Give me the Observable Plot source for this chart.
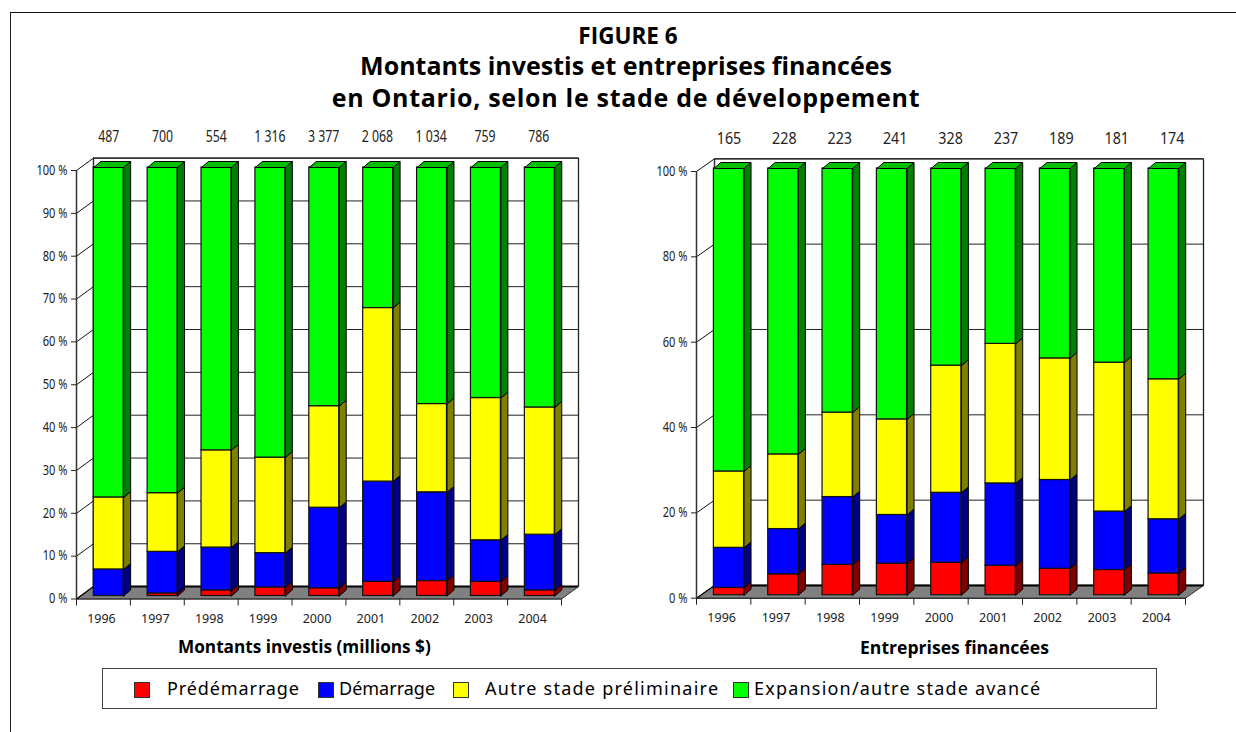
<!DOCTYPE html>
<html lang="fr">
<head>
<meta charset="utf-8">
<script src="https://cdn.jsdelivr.net/npm/d3@7"></script>
<script src="https://cdn.jsdelivr.net/npm/@observablehq/plot@0.6"></script>
<style>
html,body{margin:0;padding:0;background:#fff;width:1236px;height:732px;overflow:hidden}
#page{position:relative;width:1236px;height:732px;font-family:"Open Sans",sans-serif;color:#000}
.frameT{position:absolute;left:10px;top:12px;width:1226px;height:0;border-top:1.4px solid #111}
.frameL{position:absolute;left:10px;top:12px;width:0;height:720px;border-left:1.4px solid #222}
.ttl{position:absolute;left:0;width:1252px;text-align:center;font-weight:700;line-height:32px;color:#000;white-space:nowrap}
.plot{position:absolute;top:0}
.sub{position:absolute;top:637px;font-weight:700;line-height:20px;white-space:nowrap}
#legend{position:absolute;left:102px;top:668px;width:1053px;height:39px;border:1.3px solid #444;box-sizing:content-box}
.sw{position:absolute;top:13px;width:14px;height:14px;border:1px solid #333}
.lt{position:absolute;top:6px;font-size:18px;line-height:26px;white-space:nowrap;font-family:"Noto Sans",sans-serif}
</style>
</head>
<body>
<div id="page">
  <div class="frameT"></div><div class="frameL"></div>
  <div class="ttl" style="top:20px;font-size:22.5px;left:2px">FIGURE 6</div>
  <div class="ttl" style="top:49px;font-size:25px">Montants investis et entreprises financées</div>
  <div class="ttl" style="top:81px;font-size:25px;letter-spacing:0.7px">en Ontario, selon le stade de développement</div>
</div>
<script>
const years = [1996,1997,1998,1999,2000,2001,2002,2003,2004];
const stages = ["Prédémarrage","Démarrage","Autre stade préliminaire","Expansion/autre stade avancé"];
const frontColors = ["#ff0000","#0000ff","#ffff00","#00ff00"];
const sideColors  = ["#800000","#000080","#808000","#008000"];
const topColor = "#00c000";

// Montants investis (%)
const amountPre   = [0,0.6,1.3,2,1.8,3.3,3.5,3.3,1.3];
const amountDem   = [6.2,9.7,10,8,18.8,23.4,20.7,9.7,13];
const amountAutre = [16.8,13.7,22.7,22.3,23.7,40.5,20.6,33.2,29.7];
const amountExp   = [77,76,66,67.7,55.7,32.8,55.2,53.8,56];
const amountTotals = ["487","700","554","1 316","3 377","2 068","1 034","759","786"];
const amountTicks = [0,10,20,30,40,50,60,70,80,90,100];

// Entreprises financées (%)
const firmPre   = [1.7,4.9,7.1,7.4,7.6,6.9,6.2,5.9,5.1];
const firmDem   = [9.4,10.6,15.9,11.4,16.4,19.3,20.8,13.7,12.7];
const firmAutre = [17.9,17.5,19.8,22.4,29.8,32.7,28.5,34.9,32.8];
const firmExp   = [71,67,57.2,58.8,46.2,41.1,44.5,45.5,49.4];
const firmTotals = ["165","228","223","241","328","237","189","181","174"];
const firmTicks = [0,20,40,60,80,100];

const SVGW = 618, SVGH = 620;
const sans = '"Noto Sans",sans-serif';

function chart({series, totals, ticks, left, x0, x9, y0, y100, wallX, wallY, totalStep, totalFont, totalSquash}) {
  const pxX = (x9 - x0) / 9, pxY = (y0 - y100) / 100;
  const W = {x: wallX / pxX, y: wallY / pxY};           // depth of the chart box, data units
  const B = {x: 7 / pxX, y: 6 / pxY};                   // depth of a bar, data units
  const lift = 3;                                       // bars stand a little behind the front edge
  const barL = 0.32, barR = 0.875;
  const rows = [];
  years.forEach((yr, i) => {
    let acc = 0;
    series.forEach((vals, s) => {
      const v = vals[i];
      if (v > 0) rows.push({i, s, x1: i + barL, x2: i + barR, y1: acc, y2: acc + v});
      acc += v;
    });
  });
  const poly = (pts, id) => pts.concat([pts[0]]).map(([x, y]) => ({x, y, id}));
  const sides = s => rows.filter(r => r.s === s).flatMap((r, k) => poly([
    [r.x2, r.y1], [r.x2, r.y2], [r.x2 + B.x, r.y2 + B.y], [r.x2 + B.x, r.y1 + B.y]
  ], k));
  const tops = rows.filter(r => r.s === 3).flatMap((r, k) => poly([
    [r.x1, r.y2], [r.x1 + B.x, r.y2 + B.y], [r.x2 + B.x, r.y2 + B.y], [r.x2, r.y2]
  ], k));
  const wallBack = poly([[W.x,W.y],[W.x,100+W.y],[9+W.x,100+W.y],[9+W.x,W.y]],0);
  const floor = poly([[0,0],[W.x,W.y],[9+W.x,W.y],[9,0]],0);
  const gridRows = ticks;
  const lineOpts = {x:"x", y:"y", z:"id"};

  const marks = [
    Plot.line(wallBack, {...lineOpts, fill:"#fff", stroke:"#222", strokeWidth:1.3}),
    Plot.ruleY(gridRows, {x1:W.x, x2:9+W.x, y:d=>d+W.y, stroke:"#222", strokeWidth:1}),
    Plot.link(gridRows, {x1:0, y1:d=>d, x2:W.x, y2:d=>d+W.y, stroke:"#111", strokeWidth:1}),
    Plot.line(poly([[W.x,W.y],[W.x,100+W.y]],0), {...lineOpts, stroke:"#333", strokeWidth:1.2}),
    Plot.line(floor, {...lineOpts, fill:"#808080", stroke:"none"}),
    Plot.ruleY([0], {x1:W.x, x2:9+W.x, y:d=>d+W.y, stroke:"#000", strokeWidth:2}),
    Plot.ruleY([0], {x1:0, x2:9, stroke:"#333", strokeWidth:1.4}),
    Plot.link([9], {x1:d=>d, y1:0, x2:d=>d+W.x, y2:W.y, stroke:"#333", strokeWidth:1}),
    Plot.link([0], {x1:0, y1:0, x2:W.x, y2:W.y, stroke:"#000", strokeWidth:1.2}),
    Plot.ruleX([0], {y1:0, y2:100, stroke:"#333", strokeWidth:1.5}),
    Plot.axisY({ticks, tickFormat:d=>d+" %", tickSize:5, tickPadding:4, fontSize:13.5, fontFamily:sans, label:null, color:"#222"}),
    Plot.axisX({ticks:d3.range(0,10), tickSize:7, tickFormat:()=>"", label:null, color:"#222"}),
    Plot.text(years, {x:(d,i)=>i+0.5, y:0, dx:-2, dy:20, text:d=>String(d), fontSize:12.5, fontFamily:sans, fill:"#222"}),
    Plot.text(totals, {x:(d,i)=>i*totalStep/pxX+(barL+barR)/2, y:100, dy:-33, text:d=>d, fontSize:totalFont, fontFamily:sans, fill:"#222", className:"totals"})
  ];
  stages.forEach((_, s) => {
    marks.push(Plot.line(sides(s), {...lineOpts, fill:sideColors[s], stroke:"#000", strokeWidth:1, dy:-lift}));
    marks.push(Plot.rect(rows.filter(r=>r.s===s), {x1:"x1", x2:"x2", y1:"y1", y2:"y2", fill:frontColors[s], stroke:"#111", strokeWidth:1.2, dy:-lift}));
  });
  marks.push(Plot.line(tops, {...lineOpts, fill:topColor, stroke:"#000", strokeWidth:1, dy:-lift}));

  const svg = Plot.plot({
    width:SVGW, height:SVGH,
    marginLeft:x0, marginRight:SVGW-x9, marginTop:y100, marginBottom:SVGH-y0,
    x:{domain:[0,9], axis:null},
    y:{domain:[0,100], axis:null},
    style:{background:"transparent", overflow:"visible"},
    marks
  });
  const box = document.createElement("div");
  box.className = "plot"; box.style.left = left + "px";
  box.appendChild(svg);
  document.getElementById("page").appendChild(box);
  // the reference uses a condensed face for these labels
  const squash = (sel, k) => svg.querySelectorAll(sel).forEach(t => {
    t.setAttribute("textLength", t.getComputedTextLength() * k);
    t.setAttribute("lengthAdjust", "spacingAndGlyphs");
  });
  squash('.totals text', totalSquash);
  squash('g[aria-label="y-axis tick label"] text', 0.82);
}

chart({series:[amountPre,amountDem,amountAutre,amountExp], totals:amountTotals, ticks:amountTicks,
  left:0, x0:76, x9:561, y0:598.5, y100:170, wallX:17, wallY:12.4, totalStep:53.75, totalFont:15.4, totalSquash:0.8});
chart({series:[firmPre,firmDem,firmAutre,firmExp], totals:firmTotals, ticks:firmTicks,
  left:618, x0:78, x9:567, y0:597.7, y100:171, wallX:18, wallY:12.7, totalStep:55.4, totalFont:17, totalSquash:0.84});

const page = document.getElementById("page");
function add(cls, css, text){const e=document.createElement("div");e.className=cls;e.style.cssText=css;if(text)e.textContent=text;return e;}
page.appendChild(add("sub","left:178px;font-size:17.2px","Montants investis (millions $)"));
page.appendChild(add("sub","left:860px;font-size:17.6px","Entreprises financées"));
const lg = add("", "", ""); lg.id="legend";
const swX = [31,215,350,630], txtX = [64,236,382,651], spacing = [0.9,0,1.25,1.2];
stages.forEach((t,i)=>{
  lg.appendChild(add("sw",`left:${swX[i]}px;background:${frontColors[i]}`));
  lg.appendChild(add("lt",`left:${txtX[i]}px;letter-spacing:${spacing[i]}px`,t));
});
page.appendChild(lg);
</script>
</body>
</html>
